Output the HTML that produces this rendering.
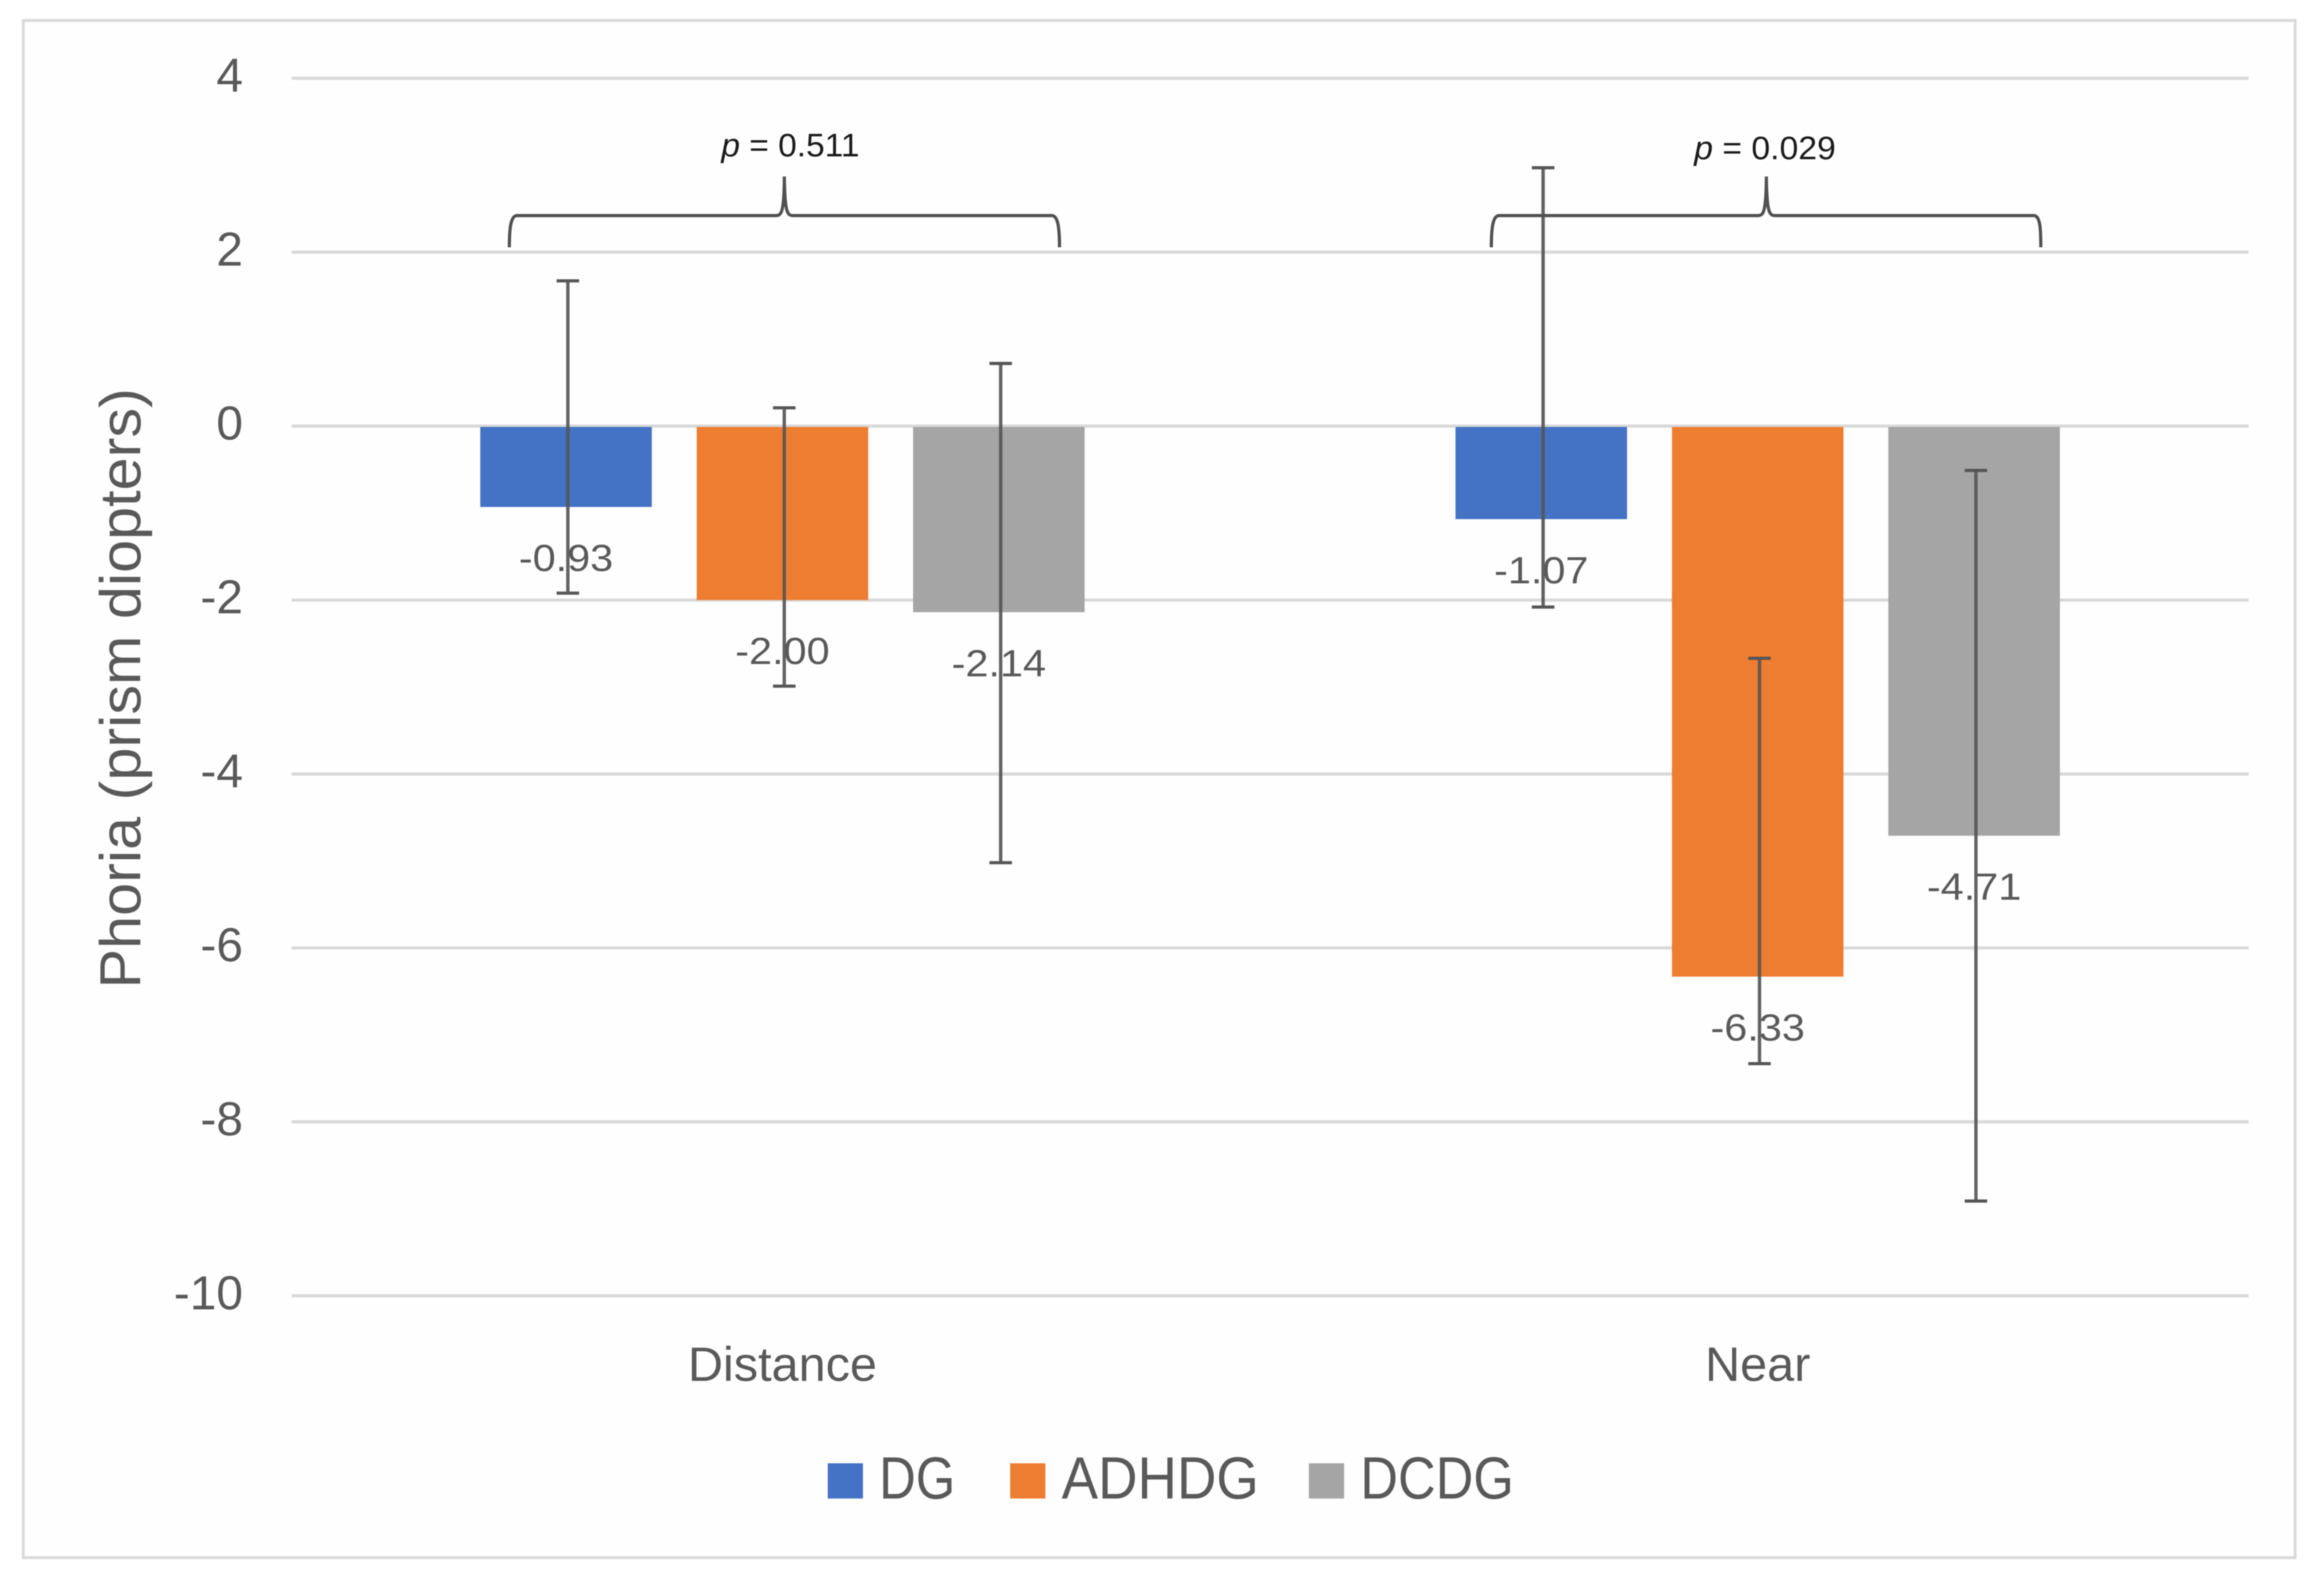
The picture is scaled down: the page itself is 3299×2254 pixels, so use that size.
<!DOCTYPE html>
<html lang="en">
<head>
<meta charset="utf-8">
<title>Phoria by group</title>
<style>
  html, body { margin: 0; padding: 0; background: #ffffff; }
  body { width: 3299px; height: 2254px; overflow: hidden; }
  svg { display: block; filter: blur(0.9px); }
  text { font-family: "Liberation Sans", sans-serif; fill: #595959; }
</style>
</head>
<body>
<svg id="chart" xmlns="http://www.w3.org/2000/svg" width="3299" height="2254" viewBox="0 0 3299 2254">
  <rect x="33" y="29" width="3225" height="2182" fill="#fefefe" stroke="#d9d9d9" stroke-width="4"/>
  <g id="grid"></g>
  <g id="ticks"></g>
  <text transform="translate(199 977) rotate(-90)" text-anchor="middle" font-size="82" textLength="852" lengthAdjust="spacingAndGlyphs">Phoria (prism diopters)</text>
  <g id="bars"></g>
  <g id="errors"></g>
  <g id="labels"></g>
  <g id="cats"></g>
  <g id="legend"></g>

  <path fill="none" stroke="#505050" stroke-width="4.5" d="M723 351 C723 324 725 306 734 306 L1102 306 C1110 306 1113 298 1113.4 250.5 C1114 298 1117 306 1125 306 L1493 306 C1502 306 1504 324 1504 351"/>
  <path fill="none" stroke="#505050" stroke-width="4.5" d="M2117 351 C2117 324 2119 306 2128 306 L2496 306 C2504 306 2507 298 2507.4 250.5 C2508 298 2511 306 2519 306 L2887 306 C2896 306 2897 324 2897 351"/>
  <text x="1024" y="222" font-size="46" textLength="196" lengthAdjust="spacingAndGlyphs" style="fill:#1a1a1a"><tspan font-style="italic">p</tspan> = 0.511</text>
  <text x="2405" y="226" font-size="46" textLength="201" lengthAdjust="spacingAndGlyphs" style="fill:#1a1a1a"><tspan font-style="italic">p</tspan> = 0.029</text>
</svg>
<script>
const categories = ['Distance', 'Near'];
const seriesNames = ['DG', 'ADHDG', 'DCDG'];
const dgValues = [-0.93, -1.07];
const adhdgValues = [-2.00, -6.33];
const dcdgValues = [-2.14, -4.71];
const dgErrorHigh = [1.67, 2.97];
const dgErrorLow = [-1.92, -2.08];
const adhdgErrorHigh = [0.21, -2.67];
const adhdgErrorLow = [-2.99, -7.33];
const dcdgErrorHigh = [0.72, -0.51];
const dcdgErrorLow = [-5.02, -8.91];
const yTicks = [4, 2, 0, -2, -4, -6, -8, -10];

const seriesValues = [dgValues, adhdgValues, dcdgValues];
const errorHigh = [dgErrorHigh, adhdgErrorHigh, dcdgErrorHigh];
const errorLow = [dgErrorLow, adhdgErrorLow, dcdgErrorLow];
const seriesColors = ['#4472c4', '#ed7d31', '#a5a5a5'];

const NS = 'http://www.w3.org/2000/svg';
function y(v) { return 604.8 - 123.45 * v; }
function groupX(i) { return 1110.7 + 1384.4 * i; }
function barX(i, s) { return groupX(i) + (s - 1) * 307.2; }
function make(tag, parent, attrs, content) {
  const el = document.createElementNS(NS, tag);
  for (const k in attrs) el.setAttribute(k, attrs[k]);
  if (content !== undefined) el.textContent = content;
  document.getElementById(parent).appendChild(el);
  return el;
}

yTicks.forEach(function (t) {
  const line = make('line', 'grid', { x1: 414, x2: 3192, y1: y(t), y2: y(t), stroke: '#d9d9d9', 'stroke-width': 4.5 });
  
  
  const label = make('text', 'ticks', { x: 345, y: y(t) + 19, 'text-anchor': 'end', 'font-size': 68 }, String(t));
  
  
});

const BAR_W = 243.5;
seriesValues.forEach(function (vals, s) {
  vals.forEach(function (v, i) {
    const cx = barX(i, s);
    const top = y(0) + 1.2;
    const bar = make('rect', 'bars', { x: cx - BAR_W / 2, y: top, width: BAR_W, height: Math.max(0, y(v) - top), fill: seriesColors[s] });
    
    

    const ex = cx + 2.6;
    const stem = make('line', 'errors', { x1: ex, x2: ex, y1: y(errorHigh[s][i]), y2: y(errorLow[s][i]), stroke: '#555555', 'stroke-width': 4.8, 'stroke-opacity': 0.92 });
    
    
    const capHigh = make('line', 'errors', { x1: ex - 16, x2: ex + 16, y1: y(errorHigh[s][i]), y2: y(errorHigh[s][i]), stroke: '#555555', 'stroke-width': 4.5 });
    
    
    const capLow = make('line', 'errors', { x1: ex - 16, x2: ex + 16, y1: y(errorLow[s][i]), y2: y(errorLow[s][i]), stroke: '#555555', 'stroke-width': 4.5 });
    
    

    const lab = make('text', 'labels', { x: cx, y: y(v) + 91, 'text-anchor': 'middle', 'font-size': 54, textLength: 134, lengthAdjust: 'spacingAndGlyphs' }, v.toFixed(2));
    
    
  });
});

categories.forEach(function (c, i) {
  const t = make('text', 'cats', { x: groupX(i), y: 1960, 'text-anchor': 'middle', 'font-size': 69 }, c);
  
  
});

const legendSwatchWidth = 50;
const legendStarts = [1175, 1434, 1858];
const legendTextWidths = [108, 280, 218];
seriesNames.forEach(function (name, s) {
  const sw = make('rect', 'legend', { x: legendStarts[s], y: 2077, width: legendSwatchWidth, height: 50, fill: seriesColors[s] });
  
  
  const tx = make('text', 'legend', { x: legendStarts[s] + 73, y: 2127, 'font-size': 84, textLength: legendTextWidths[s], lengthAdjust: 'spacingAndGlyphs' }, name);
  
  
});
</script>
</body>
</html>
